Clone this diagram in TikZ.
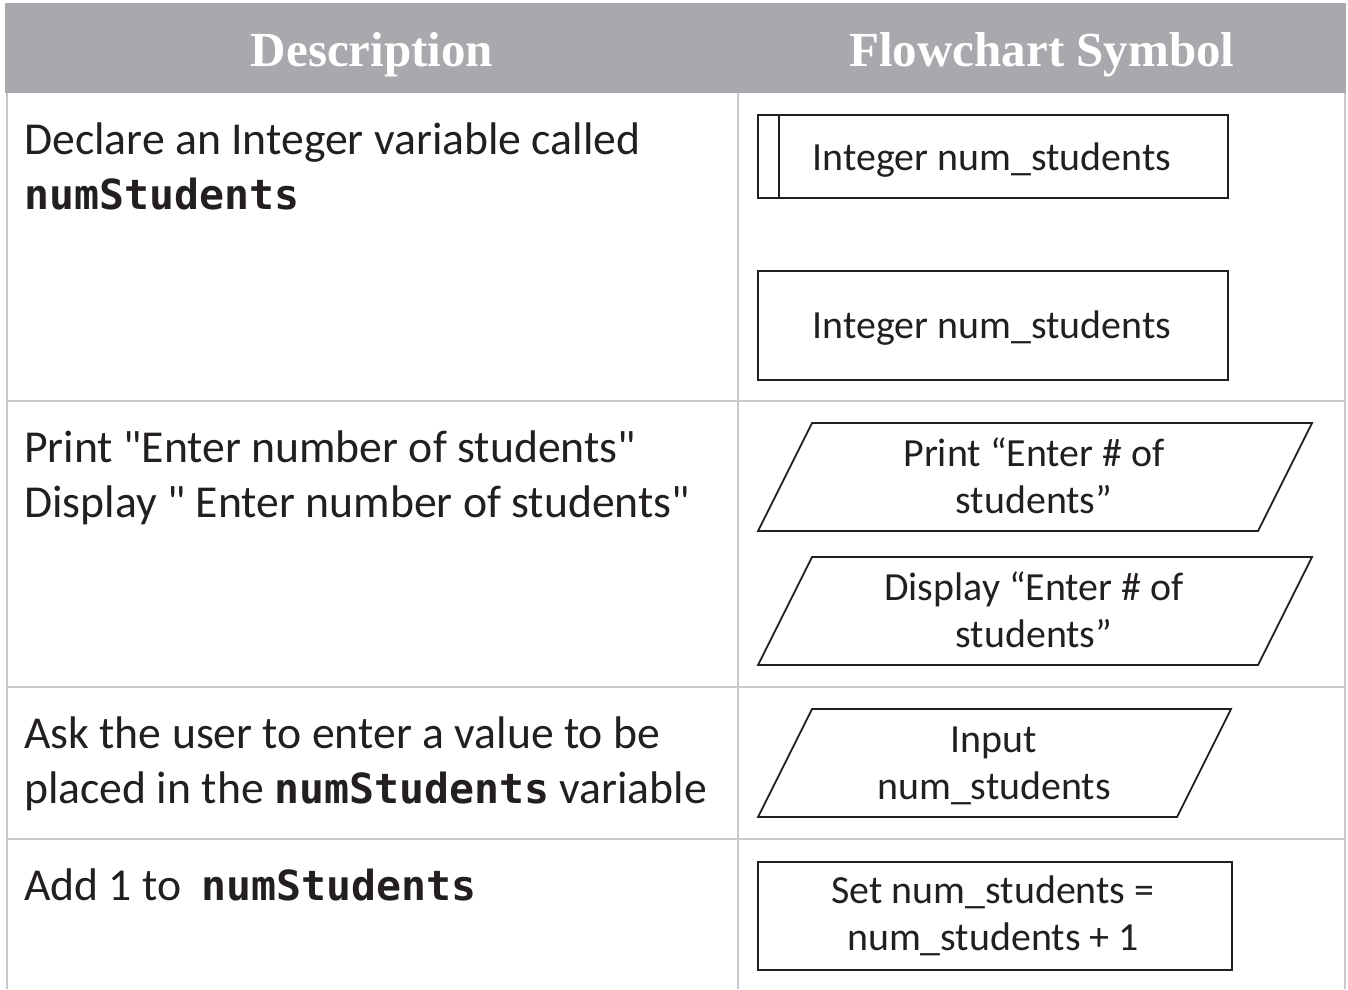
\documentclass[tikz,border=0pt]{standalone}
\usepackage{fontspec}
\setmainfont{Carlito}[Ligatures=TeXOff]
\newfontfamily\hdrfont{Liberation Serif}
\newfontfamily\codefont{DejaVu Sans Mono}
\newcommand\codeword[1]{{\codefont\bfseries\fontsize{41.5}{55}\selectfont #1}}
\definecolor{hdrgray}{HTML}{A7A9AC}
\definecolor{gridgray}{HTML}{C8C9CB}
\definecolor{ink}{HTML}{231F20}
\begin{document}
\begin{tikzpicture}[x=1pt,y=-1pt,
  gridline/.style={draw=gridgray,line width=2pt},
  shapeline/.style={draw=ink,line width=1.8pt,line join=miter},
  desc/.style={anchor=base west,inner sep=0pt,font=\fontsize{45.7}{55}\selectfont,text=ink},
  sym/.style={anchor=base,inner sep=0pt,font=\fontsize{39.9}{47}\selectfont,text=ink},
  hdr/.style={anchor=base,inner sep=0pt,font=\hdrfont\bfseries\fontsize{49}{55}\selectfont,text=white}]
\useasboundingbox (0,0) rectangle (1348,989);
% header band
\fill[hdrgray] (5,3) rectangle (1346,93);
\node[hdr] (h1) at (372,66) {Description};
\node[hdr] (h2) at (1042,66) {Flowchart Symbol};
% grid
\draw[gridline] (7,93) -- (7,989);
\draw[gridline] (738,93) -- (738,989);
\draw[gridline] (1345,93) -- (1345,989);
\draw[gridline] (7,401) -- (1345,401);
\draw[gridline] (7,687) -- (1345,687);
\draw[gridline] (7,839) -- (1345,839);
% description column
\node[desc] (d1a) at (24,154) {Declare an Integer variable called};
\node[desc] (d1b) at (24,209) {\codeword{numStudents}};
\node[desc] (d2a) at (24,462) {Print "Enter number of students"};
\node[desc] (d2b) at (24,517) {Display " Enter number of students"};
\node[desc] (d3a) at (24,748) {Ask the user to enter a value to be};
\node[desc] (d3b) at (24,803) {placed in the \codeword{numStudents} variable};
\node[desc] (d4a) at (24,900) {Add 1 to\hspace{20pt}\codeword{numStudents}};
% symbols
\draw[shapeline] (758,115) rectangle (1228,198);
\draw[shapeline] (779,115) -- (779,198);
\node[sym] (s1) at (992,170) {Integer num\_students};
\draw[shapeline] (758,271) rectangle (1228,380);
\node[sym] (s2) at (992,338) {Integer num\_students};
\draw[shapeline] (812,423) -- (1312,423) -- (1258,531) -- (758,531) -- cycle;
\node[sym] (s3a) at (1034,466) {Print “Enter \# of};
\node[sym] (s3b) at (1034,513) {students”};
\draw[shapeline] (812,557) -- (1312,557) -- (1258,665) -- (758,665) -- cycle;
\node[sym] (s4a) at (1034,600) {Display “Enter \# of};
\node[sym] (s4b) at (1034,647) {students”};
\draw[shapeline] (812,709) -- (1231,709) -- (1177,817) -- (758,817) -- cycle;
\node[sym] (s5a) at (994,752) {Input};
\node[sym] (s5b) at (994,799) {num\_students};
\draw[shapeline] (758,862) rectangle (1232,970);
\node[sym] (s6a) at (993,903) {Set num\_students =};
\node[sym] (s6b) at (993,950) {num\_students + 1};
\end{tikzpicture}
\end{document}
